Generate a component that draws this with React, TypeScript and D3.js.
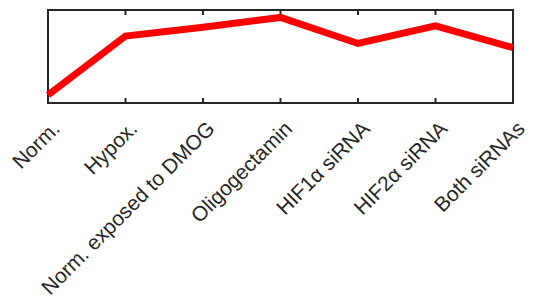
import { useRef, useEffect } from "react";
import * as d3 from "d3";

const categories = [
  "Norm.",
  "Hypox.",
  "Norm. exposed to DMOG",
  "Oligogectamin",
  "HIF1α siRNA",
  "HIF2α siRNA",
  "Both siRNAs",
];
const values = [8.6, 72, 81.5, 92, 64, 83, 59.5];
const yDomain = [0, 100];

const App = () => {
  const container = useRef<SVGSVGElement>(null);

  useEffect(() => {
    const width = 537;
    const height = 306;
    const margins = { t: 10, l: 48, r: 24, b: 203 };
    const chartW = width - margins.l - margins.r;
    const chartH = height - margins.t - margins.b;
    const axisColor = "#262626";

    const svg = d3.select(container.current);
    svg.selectAll("*").remove();

    const xScale = d3.scalePoint<string>().domain(categories).range([0, chartW]);
    const yScale = d3.scaleLinear().domain(yDomain).range([chartH, 0]);

    const g = svg.append("g").attr("transform", `translate(${margins.l},${margins.t})`);

    // box
    g.append("rect")
      .attr("width", chartW)
      .attr("height", chartH)
      .attr("fill", "none")
      .attr("stroke", axisColor)
      .attr("stroke-width", 2);

    // ticks top and bottom (inward)
    categories.forEach((c) => {
      const x = xScale(c)!;
      g.append("line")
        .attr("x1", x).attr("x2", x).attr("y1", chartH).attr("y2", chartH - 5)
        .attr("stroke", axisColor).attr("stroke-width", 2);
      g.append("line")
        .attr("x1", x).attr("x2", x).attr("y1", 0).attr("y2", 5)
        .attr("stroke", axisColor).attr("stroke-width", 2);
    });

    // line
    g.append("path")
      .datum(values)
      .attr("fill", "none")
      .attr("stroke", "#ff0000")
      .attr("stroke-width", 7)
      .attr(
        "d",
        d3
          .line<number>()
          .x((d, i) => xScale(categories[i])!)
          .y((d) => yScale(d))
      );

    // rotated labels
    g.selectAll(".xlab")
      .data(categories)
      .join("text")
      .attr("class", "xlab")
      .attr("text-anchor", "end")
      .attr("font-family", "Liberation Sans, Arial, sans-serif")
      .attr("font-size", 20.8)
      .attr("fill", axisColor)
      .attr("transform", (d) => `translate(${xScale(d)! + 13},${chartH + 27}) rotate(-45)`)
      .text((d) => d);
  });

  return (
    <svg
      ref={container}
      width={537}
      height={306}
      style={{ position: "absolute", left: 0, top: 0, background: "#fff" }}
    />
  );
};

export default App;
